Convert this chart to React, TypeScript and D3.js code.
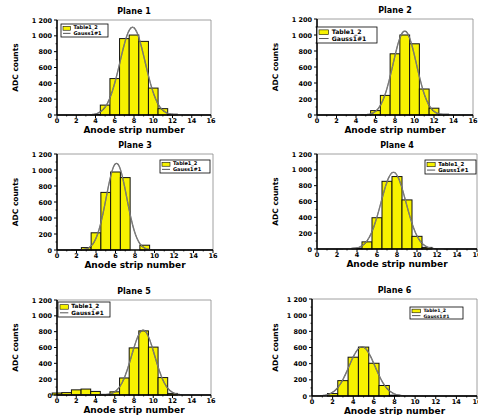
import React from "react";
import * as d3 from "d3";

// ADC counts per anode strip (strip number -> counts)
const strips = d3.range(0, 17);
const plane1 = [0, 0, 0, 0, 5, 125, 460, 965, 1010, 930, 340, 80, 10, 0, 0, 0, 0];
const plane2 = [0, 0, 0, 0, 0, 5, 55, 245, 765, 1000, 890, 325, 85, 10, 0, 0, 0];
const plane3 = [0, 0, 5, 30, 215, 720, 975, 905, 0, 60, 0, 0, 0, 0, 0, 0, 0];
const plane4 = [0, 0, 0, 0, 10, 90, 395, 855, 915, 620, 160, 20, 0, 0, 0, 0, 0];
const plane5 = [25, 30, 65, 75, 45, 8, 40, 215, 595, 810, 605, 220, 20, 0, 0, 0, 0];
const plane6 = [0, 0, 30, 190, 480, 605, 405, 130, 10, 0, 0, 0, 0, 0, 0, 0, 0];

// fitted gaussian parameters [amplitude, centre, sigma]
const gauss1 = [1110, 7.85, 1.3];
const gauss2 = [1050, 9.0, 1.2];
const gauss3 = [1085, 6.1, 1.05];
const gauss4 = [970, 7.65, 1.25];
const gauss5 = [820, 8.95, 1.2];
const gauss6 = [610, 4.85, 1.25];

const titles = ["Plane 1", "Plane 2", "Plane 3", "Plane 4", "Plane 5", "Plane 6"];
const legendLabels = ["Table1_2", "Gauss1#1"];
const xTicks = [0, 2, 4, 6, 8, 10, 12, 14, 16];
const yTicks = [0, 200, 400, 600, 800, 1000, 1200];
const yTickLabels = ["0", "200", "400", "600", "800", "1 000", "1 200"];

const series = [plane1, plane2, plane3, plane4, plane5, plane6];
const fits = [gauss1, gauss2, gauss3, gauss4, gauss5, gauss6];

// plot boxes [left, right, top, bottom] and legend boxes [x, y, w, h]
const boxes = [
  [57, 211, 20, 115],
  [317, 473, 19, 115],
  [57, 213, 154, 250],
  [317, 477, 154, 249],
  [57, 211, 300, 395],
  [312, 477, 299, 396],
];
const legends = [
  [61, 24, 47, 13],
  [317, 27, 60, 16],
  [160, 160, 50, 13],
  [425, 160, 51, 14],
  [58, 302, 52, 15],
  [410, 307, 53, 12],
];

const font = "'DejaVu Sans', Verdana, sans-serif";

function Panel({ idx }: { idx: number }) {
  const [l, r, t, b] = boxes[idx];
  const x = d3.scaleLinear().domain([0, 16]).range([l, r]);
  const y = d3.scaleLinear().domain([0, 1200]).range([b, t]);
  const data = series[idx];
  const [amp, mu, sig] = fits[idx];
  const curveX = d3.range(0, 16.01, 0.1);
  const line = d3
    .line<number>()
    .x((d) => x(d))
    .y((d) => y(amp * Math.exp(-((d - mu) ** 2) / (2 * sig * sig))))
    .curve(d3.curveBasis);
  const [lx, ly, lw, lh] = legends[idx];
  const fs = lh / 2.6;
  const midX = (l + r) / 2;
  const labelX = idx % 2 === 0 ? 18 : 278;

  return (
    <g>
      <text x={midX} y={t - 6} textAnchor="middle" fontFamily={font} fontWeight="bold" fontSize={8}>
        {titles[idx]}
      </text>
      {/* frame */}
      <line x1={l} x2={r} y1={t} y2={t} stroke="#888" strokeWidth={0.8} />
      <line x1={r} x2={r} y1={t} y2={b} stroke="#888" strokeWidth={0.8} />
      {/* bars */}
      {strips.map((s, i) =>
        data[i] > 0 ? (
          <rect
            key={i}
            x={x(s - 0.5)}
            y={y(data[i])}
            width={x(s + 0.5) - x(s - 0.5)}
            height={y(0) - y(data[i])}
            fill="#f7f200"
            stroke="#111"
            strokeWidth={1}
          />
        ) : null
      )}
      <path d={line(curveX) || ""} fill="none" stroke="#444" strokeWidth={1.3} />
      <path d={line(curveX) || ""} fill="none" stroke="#ddd" strokeWidth={0.4} />
      {/* axes */}
      <line x1={l} x2={l} y1={t} y2={b} stroke="#000" strokeWidth={1.6} />
      <line x1={l} x2={r} y1={b} y2={b} stroke="#000" strokeWidth={1.6} />
      {yTicks.map((v, i) => (
        <g key={"y" + v}>
          <line x1={l - 3} x2={l} y1={y(v)} y2={y(v)} stroke="#000" strokeWidth={1} />
          {i < yTicks.length - 1 && (
            <line x1={l - 1.5} x2={l} y1={y(v + 100)} y2={y(v + 100)} stroke="#000" strokeWidth={0.8} />
          )}
          <text x={l - 5} y={y(v) + 2.5} textAnchor="end" fontFamily={font} fontWeight="bold" fontSize={6.5}>
            {yTickLabels[i]}
          </text>
        </g>
      ))}
      {xTicks.map((v, i) => (
        <g key={"x" + v}>
          <line x1={x(v)} x2={x(v)} y1={b} y2={b + 3} stroke="#000" strokeWidth={1} />
          {i < xTicks.length - 1 && (
            <line x1={x(v + 1)} x2={x(v + 1)} y1={b} y2={b + 1.5} stroke="#000" strokeWidth={0.8} />
          )}
          <text x={x(v)} y={b + 8} textAnchor="middle" fontFamily={font} fontWeight="bold" fontSize={6.5}>
            {v}
          </text>
        </g>
      ))}
      <text x={midX} y={b + 17.5} textAnchor="middle" fontFamily={font} fontWeight="bold" fontSize={9}>
        Anode strip number
      </text>
      <text
        transform={`translate(${labelX},${(t + b) / 2}) rotate(-90)`}
        textAnchor="middle"
        fontFamily={font}
        fontWeight="bold"
        fontSize={7.5}
      >
        ADC counts
      </text>
      {/* legend */}
      <rect x={lx} y={ly} width={lw} height={lh} fill="#fff" stroke="#000" strokeWidth={0.8} />
      <rect x={lx + 2} y={ly + lh * 0.18} width={lw * 0.16} height={lh * 0.3} fill="#f7f200" stroke="#111" strokeWidth={0.6} />
      <line x1={lx + 2} x2={lx + 2 + lw * 0.16} y1={ly + lh * 0.72} y2={ly + lh * 0.72} stroke="#555" strokeWidth={1} />
      <text x={lx + 4 + lw * 0.18} y={ly + lh * 0.42} fontFamily={font} fontWeight="bold" fontSize={fs}>
        {legendLabels[0]}
      </text>
      <text x={lx + 4 + lw * 0.18} y={ly + lh * 0.88} fontFamily={font} fontWeight="bold" fontSize={fs}>
        {legendLabels[1]}
      </text>
    </g>
  );
}

export default function App() {
  return (
    <svg width={478} height={415} style={{ position: "absolute", left: 0, top: 0 }}>
      <rect width={478} height={415} fill="#fff" />
      {titles.map((_, i) => (
        <Panel key={i} idx={i} />
      ))}
    </svg>
  );
}
